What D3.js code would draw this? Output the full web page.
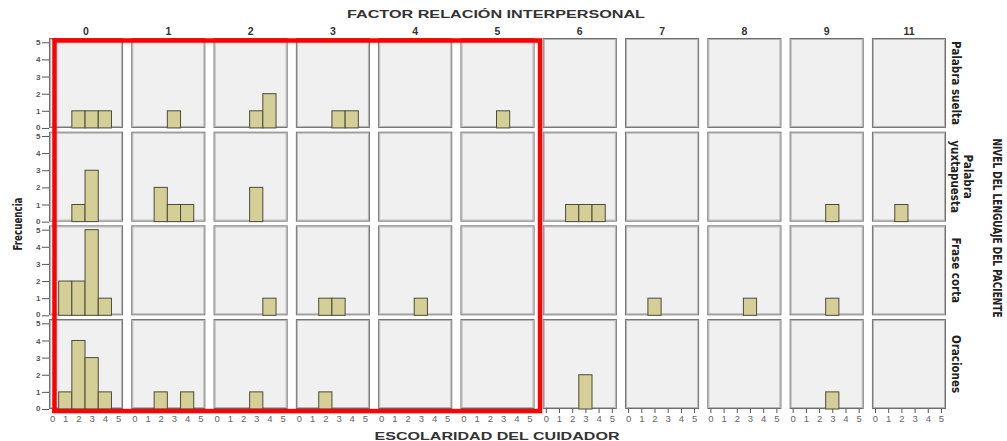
<!DOCTYPE html>
<html>
<head>
<meta charset="utf-8">
<script src="https://cdn.jsdelivr.net/npm/d3@7"></script>
<style>
  html, body { margin: 0; padding: 0; background: #ffffff; }
  svg { display: block; }
  .narrow { font-family: "Liberation Sans Narrow", "DejaVu Sans Condensed", "Arial Narrow", sans-serif; font-stretch: condensed; }
</style>
</head>
<body>
<svg id="chart" width="1007" height="441"></svg>
<script>
// Panel columns: FACTOR RELACIÓN INTERPERSONAL
const factorLevels = ["0", "1", "2", "3", "4", "5", "6", "7", "8", "9", "11"];
// Panel rows: NIVEL DEL LENGUAJE DEL PACIENTE
const languageLevels = ["Palabra suelta", "Palabra yuxtapuesta", "Frase corta", "Oraciones"];
const languageLabelLines = [["Palabra suelta"], ["Palabra", "yuxtapuesta"], ["Frase corta"], ["Oraciones"]];
// x axis inside each panel: ESCOLARIDAD DEL CUIDADOR
const schoolingTicks = [0, 1, 2, 3, 4, 5];
const frequencyTicks = [0, 1, 2, 3, 4, 5];

// Frequencies per factor level (columns), each listing counts for schooling 0..5
const freqPalabraSuelta = [
  [0,0,1,1,1,0], [0,0,0,1,0,0], [0,0,0,1,2,0], [0,0,0,1,1,0], [0,0,0,0,0,0], [0,0,0,1,0,0],
  [0,0,0,0,0,0], [0,0,0,0,0,0], [0,0,0,0,0,0], [0,0,0,0,0,0], [0,0,0,0,0,0]
];
const freqPalabraYuxtapuesta = [
  [0,0,1,3,0,0], [0,0,2,1,1,0], [0,0,0,2,0,0], [0,0,0,0,0,0], [0,0,0,0,0,0], [0,0,0,0,0,0],
  [0,0,1,1,1,0], [0,0,0,0,0,0], [0,0,0,0,0,0], [0,0,0,1,0,0], [0,0,1,0,0,0]
];
const freqFraseCorta = [
  [0,2,2,5,1,0], [0,0,0,0,0,0], [0,0,0,0,1,0], [0,0,1,1,0,0], [0,0,0,1,0,0], [0,0,0,0,0,0],
  [0,0,0,0,0,0], [0,0,1,0,0,0], [0,0,0,1,0,0], [0,0,0,1,0,0], [0,0,0,0,0,0]
];
const freqOraciones = [
  [0,1,4,3,1,0], [0,0,1,0,1,0], [0,0,0,1,0,0], [0,0,1,0,0,0], [0,0,0,0,0,0], [0,0,0,0,0,0],
  [0,0,0,2,0,0], [0,0,0,0,0,0], [0,0,0,0,0,0], [0,0,0,1,0,0], [0,0,0,0,0,0]
];
const freqByRow = [freqPalabraSuelta, freqPalabraYuxtapuesta, freqFraseCorta, freqOraciones];

// Factor levels enclosed by the highlight frame
const highlightedLevels = ["0", "1", "2", "3", "4", "5"];

const svg = d3.select("#chart");

const colScale = d3.scaleBand().domain(factorLevels).range([49, 946]).paddingInner(0.1).paddingOuter(0);
const rowScale = d3.scaleBand().domain(languageLevels).range([38, 409]).paddingInner(0.04).paddingOuter(0);
const bw = colScale.bandwidth();
const bh = rowScale.bandwidth();

const x = d3.scaleLinear().domain([-0.23, 5.38]).range([0, bw]);
const y = d3.scaleLinear().domain([0, 5.25]).range([bh, 0]);

const barFill = "#d3cf97";
const barStroke = "#4d4b3a";

// Panels
languageLevels.forEach((lvl, ri) => {
  factorLevels.forEach((f, ci) => {
    const g = svg.append("g")
      .attr("transform", `translate(${colScale(f)},${rowScale(lvl)})`);

    g.append("rect")
      .attr("x", 0.5).attr("y", 0.5)
      .attr("width", bw - 1).attr("height", bh - 1)
      .attr("fill", "#f0f0f0")
      .attr("stroke", "#6f6f6f").attr("stroke-width", 1);
    g.append("rect")
      .attr("x", 1.5).attr("y", 1.5)
      .attr("width", bw - 3).attr("height", bh - 3)
      .attr("fill", "none")
      .attr("stroke", "#b4b4b4").attr("stroke-width", 1);

    const counts = freqByRow[ri][ci];
    const bars = schoolingTicks.map((s, k) => ({ s, n: counts[k] })).filter(d => d.n > 0);
    g.selectAll("rect.bar").data(bars).enter().append("rect")
      .attr("class", "bar")
      .attr("x", d => x(d.s - 0.5))
      .attr("y", d => y(d.n))
      .attr("width", d => x(d.s + 0.5) - x(d.s - 0.5))
      .attr("height", d => y(0) - y(d.n))
      .attr("fill", barFill)
      .attr("stroke", barStroke).attr("stroke-width", 1);

    // bottom x axis on last row
    if (ri === languageLevels.length - 1) {
      const ax = g.append("g")
        .attr("transform", `translate(0,${bh})`)
        .call(d3.axisBottom(x).tickValues(schoolingTicks).tickFormat(d3.format("d")).tickSize(4).tickPadding(2));
      ax.select(".domain").remove();
      ax.selectAll("line").attr("stroke", "#555");
      ax.selectAll("text")
        .attr("font-family", "Liberation Sans, Arial, sans-serif")
        .attr("font-size", 9.5).attr("fill", "#666");
    }
    // left y axis on first column
    if (ci === 0) {
      const ay = g.append("g")
        .call(d3.axisLeft(y).tickValues(frequencyTicks).tickSize(7).tickPadding(1.5).tickFormat(d3.format("d")));
      ay.select(".domain").remove();
      ay.selectAll("line").attr("stroke", "#555");
      ay.selectAll("text")
        .attr("font-family", "Liberation Sans, Arial, sans-serif")
        .attr("font-weight", "bold")
        .attr("font-size", 8).attr("fill", "#555")
        .attr("dy", d => d === 0 ? "0.2em" : "0.32em");
    }
  });
});

// Column headers
svg.append("g").selectAll("text").data(factorLevels).enter().append("text")
  .attr("x", d => colScale(d) + bw / 2)
  .attr("y", 35)
  .attr("text-anchor", "middle")
  .attr("font-family", "Liberation Sans, Arial, sans-serif")
  .attr("font-weight", "bold")
  .attr("font-size", 10.5)
  .attr("fill", "#333")
  .text(d => d);

// Row strip labels (rotated; first line sits on the outer side)
const stripX = colScale(factorLevels[factorLevels.length - 1]) + bw + 10;
languageLevels.forEach((lvl, ri) => {
  const lines = languageLabelLines[ri];
  const cy = rowScale(lvl) + bh / 2;
  const t = svg.append("text")
    .attr("class", "narrow")
    .attr("transform", `translate(${stripX + (lines.length - 1) * 12},${cy}) rotate(90)`)
    .attr("text-anchor", "middle")
    .attr("font-weight", "bold")
    .attr("font-size", 11.5)
    .attr("fill", "#222");
  lines.forEach((ln, li) => {
    t.append("tspan")
      .attr("x", 0)
      .attr("dy", li === 0 ? 4 : 13)
      .text(ln);
  });
});

// Titles
svg.append("text")
  .attr("x", 496).attr("y", 18)
  .attr("text-anchor", "middle")
  .attr("font-family", "Liberation Sans, Arial, sans-serif")
  .attr("font-weight", "bold").attr("font-size", 11.5)
  .attr("fill", "#333")
  .attr("textLength", 298).attr("lengthAdjust", "spacingAndGlyphs")
  .text("FACTOR RELACIÓN INTERPERSONAL");

svg.append("text")
  .attr("x", 497).attr("y", 440)
  .attr("text-anchor", "middle")
  .attr("font-family", "Liberation Sans, Arial, sans-serif")
  .attr("font-weight", "bold").attr("font-size", 11.5)
  .attr("fill", "#333")
  .attr("textLength", 245).attr("lengthAdjust", "spacingAndGlyphs")
  .text("ESCOLARIDAD DEL CUIDADOR");

svg.append("text")
  .attr("class", "narrow")
  .attr("transform", "translate(22,224) rotate(-90)")
  .attr("text-anchor", "middle")
  .attr("font-weight", "bold").attr("font-size", 12)
  .attr("fill", "#222")
  .attr("textLength", 53).attr("lengthAdjust", "spacingAndGlyphs")
  .text("Frecuencia");

svg.append("text")
  .attr("class", "narrow")
  .attr("transform", "translate(993,228) rotate(90)")
  .attr("text-anchor", "middle")
  .attr("font-weight", "bold").attr("font-size", 12)
  .attr("fill", "#222")
  .attr("textLength", 179).attr("lengthAdjust", "spacingAndGlyphs")
  .text("NIVEL DEL LENGUAJE DEL PACIENTE");

// Highlight frame around the first six factor levels
const hx0 = colScale(highlightedLevels[0]) + 5.5;
const hx1 = colScale(highlightedLevels[highlightedLevels.length - 1]) + bw + 5.5;
const hy0 = rowScale(languageLevels[0]) + 2.5;
const hy1 = rowScale(languageLevels[languageLevels.length - 1]) + bh + 2;
svg.append("rect")
  .attr("x", hx0).attr("y", hy0)
  .attr("width", hx1 - hx0).attr("height", hy1 - hy0)
  .attr("fill", "none")
  .attr("stroke", "#ff0000").attr("stroke-width", 4.5);
</script>
</body>
</html>
